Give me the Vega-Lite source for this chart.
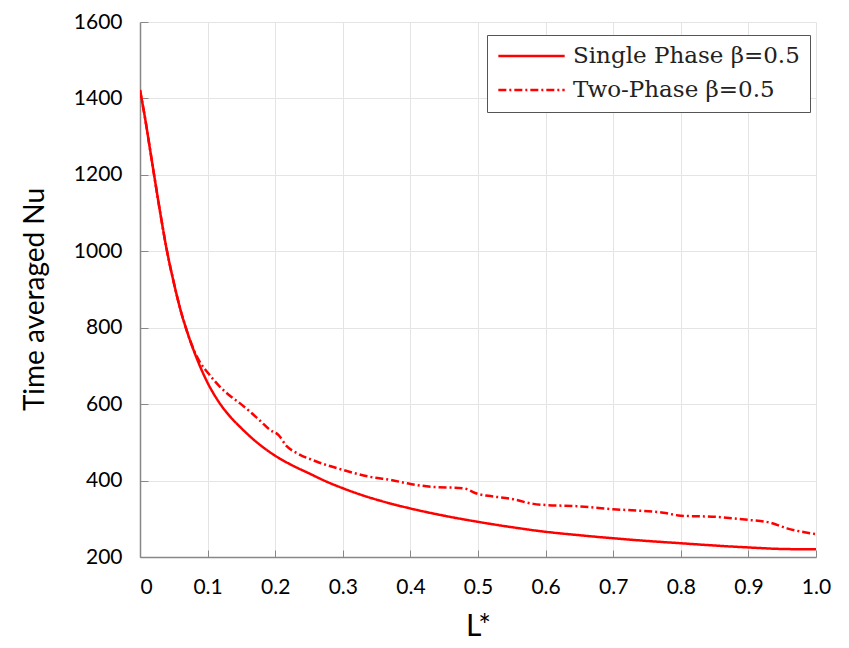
{
  "$schema": "https://vega.github.io/schema/vega-lite/v6.json",
  "width": 676,
  "height": 535,
  "autosize": {"type": "none"},
  "padding": {"left": 140, "top": 22, "right": 33, "bottom": 91},
  "background": "white",
  "config": {
    "view": {"stroke": null},
    "font": "Lato"
  },
  "data": {
    "values": [
      {"x": 0, "nu": 1422, "series": "Single Phase β=0.5"},
      {"x": 0.008, "nu": 1343, "series": "Single Phase β=0.5"},
      {"x": 0.015, "nu": 1265, "series": "Single Phase β=0.5"},
      {"x": 0.022, "nu": 1187, "series": "Single Phase β=0.5"},
      {"x": 0.03, "nu": 1100, "series": "Single Phase β=0.5"},
      {"x": 0.04, "nu": 1000, "series": "Single Phase β=0.5"},
      {"x": 0.05, "nu": 918, "series": "Single Phase β=0.5"},
      {"x": 0.06, "nu": 846, "series": "Single Phase β=0.5"},
      {"x": 0.07, "nu": 788, "series": "Single Phase β=0.5"},
      {"x": 0.08, "nu": 738, "series": "Single Phase β=0.5"},
      {"x": 0.09, "nu": 694, "series": "Single Phase β=0.5"},
      {"x": 0.1, "nu": 656, "series": "Single Phase β=0.5"},
      {"x": 0.115, "nu": 610, "series": "Single Phase β=0.5"},
      {"x": 0.133, "nu": 568, "series": "Single Phase β=0.5"},
      {"x": 0.15, "nu": 537, "series": "Single Phase β=0.5"},
      {"x": 0.165, "nu": 512, "series": "Single Phase β=0.5"},
      {"x": 0.18, "nu": 490, "series": "Single Phase β=0.5"},
      {"x": 0.2, "nu": 465, "series": "Single Phase β=0.5"},
      {"x": 0.225, "nu": 440, "series": "Single Phase β=0.5"},
      {"x": 0.25, "nu": 419, "series": "Single Phase β=0.5"},
      {"x": 0.275, "nu": 398, "series": "Single Phase β=0.5"},
      {"x": 0.3, "nu": 380, "series": "Single Phase β=0.5"},
      {"x": 0.33, "nu": 361, "series": "Single Phase β=0.5"},
      {"x": 0.36, "nu": 345, "series": "Single Phase β=0.5"},
      {"x": 0.4, "nu": 327, "series": "Single Phase β=0.5"},
      {"x": 0.45, "nu": 308, "series": "Single Phase β=0.5"},
      {"x": 0.5, "nu": 292, "series": "Single Phase β=0.5"},
      {"x": 0.55, "nu": 278, "series": "Single Phase β=0.5"},
      {"x": 0.6, "nu": 266, "series": "Single Phase β=0.5"},
      {"x": 0.65, "nu": 257, "series": "Single Phase β=0.5"},
      {"x": 0.7, "nu": 249, "series": "Single Phase β=0.5"},
      {"x": 0.75, "nu": 242, "series": "Single Phase β=0.5"},
      {"x": 0.8, "nu": 236, "series": "Single Phase β=0.5"},
      {"x": 0.85, "nu": 230, "series": "Single Phase β=0.5"},
      {"x": 0.9, "nu": 225, "series": "Single Phase β=0.5"},
      {"x": 0.95, "nu": 221, "series": "Single Phase β=0.5"},
      {"x": 1.0, "nu": 220, "series": "Single Phase β=0.5"},
      {"x": 0, "nu": 1422, "series": "Two-Phase β=0.5"},
      {"x": 0.008, "nu": 1343, "series": "Two-Phase β=0.5"},
      {"x": 0.015, "nu": 1265, "series": "Two-Phase β=0.5"},
      {"x": 0.022, "nu": 1187, "series": "Two-Phase β=0.5"},
      {"x": 0.03, "nu": 1100, "series": "Two-Phase β=0.5"},
      {"x": 0.04, "nu": 1000, "series": "Two-Phase β=0.5"},
      {"x": 0.05, "nu": 918, "series": "Two-Phase β=0.5"},
      {"x": 0.06, "nu": 846, "series": "Two-Phase β=0.5"},
      {"x": 0.07, "nu": 788, "series": "Two-Phase β=0.5"},
      {"x": 0.08, "nu": 740, "series": "Two-Phase β=0.5"},
      {"x": 0.09, "nu": 706, "series": "Two-Phase β=0.5"},
      {"x": 0.1, "nu": 683, "series": "Two-Phase β=0.5"},
      {"x": 0.118, "nu": 646, "series": "Two-Phase β=0.5"},
      {"x": 0.133, "nu": 622, "series": "Two-Phase β=0.5"},
      {"x": 0.148, "nu": 602, "series": "Two-Phase β=0.5"},
      {"x": 0.163, "nu": 580, "series": "Two-Phase β=0.5"},
      {"x": 0.178, "nu": 556, "series": "Two-Phase β=0.5"},
      {"x": 0.192, "nu": 533, "series": "Two-Phase β=0.5"},
      {"x": 0.205, "nu": 519, "series": "Two-Phase β=0.5"},
      {"x": 0.217, "nu": 490, "series": "Two-Phase β=0.5"},
      {"x": 0.232, "nu": 472, "series": "Two-Phase β=0.5"},
      {"x": 0.261, "nu": 450, "series": "Two-Phase β=0.5"},
      {"x": 0.3, "nu": 428, "series": "Two-Phase β=0.5"},
      {"x": 0.34, "nu": 410, "series": "Two-Phase β=0.5"},
      {"x": 0.37, "nu": 402, "series": "Two-Phase β=0.5"},
      {"x": 0.4, "nu": 391, "series": "Two-Phase β=0.5"},
      {"x": 0.43, "nu": 384, "series": "Two-Phase β=0.5"},
      {"x": 0.478, "nu": 380, "series": "Two-Phase β=0.5"},
      {"x": 0.5, "nu": 365, "series": "Two-Phase β=0.5"},
      {"x": 0.515, "nu": 360, "series": "Two-Phase β=0.5"},
      {"x": 0.547, "nu": 353, "series": "Two-Phase β=0.5"},
      {"x": 0.582, "nu": 339, "series": "Two-Phase β=0.5"},
      {"x": 0.6, "nu": 336, "series": "Two-Phase β=0.5"},
      {"x": 0.646, "nu": 333, "series": "Two-Phase β=0.5"},
      {"x": 0.7, "nu": 325, "series": "Two-Phase β=0.5"},
      {"x": 0.774, "nu": 316, "series": "Two-Phase β=0.5"},
      {"x": 0.8, "nu": 308, "series": "Two-Phase β=0.5"},
      {"x": 0.853, "nu": 305, "series": "Two-Phase β=0.5"},
      {"x": 0.9, "nu": 297, "series": "Two-Phase β=0.5"},
      {"x": 0.932, "nu": 290, "series": "Two-Phase β=0.5"},
      {"x": 0.957, "nu": 275, "series": "Two-Phase β=0.5"},
      {"x": 1.0, "nu": 260, "series": "Two-Phase β=0.5"}
    ]
  },
  "mark": {"type": "line", "color": "#ff0000", "strokeWidth": 2.5, "clip": true, "interpolate": "monotone"},
  "encoding": {
    "x": {
      "field": "x",
      "type": "quantitative",
      "scale": {"domain": [0, 1], "nice": false},
      "axis": {
        "title": "L*",
        "titleFont": "Lato",
        "titleFontSize": 30,
        "titleFontWeight": "normal",
        "titleColor": "#000",
        "titleBaseline": "middle",
        "titleY": 69,
        "titleX": 338,
        "values": [0, 0.1, 0.2, 0.3, 0.4, 0.5, 0.6, 0.7, 0.8, 0.9, 1.0],
        "labelExpr": "datum.value == 0 ? '0' : format(datum.value, '.1f')",
        "labelAlign": {"condition": {"test": "datum.value == 0", "value": "left"}, "value": "center"},
        "labelFont": "Lato",
        "labelFontSize": 21,
        "labelColor": "#000",
        "labelPadding": 26,
        "labelFlush": false,
        "tickSize": -7,
        "tickColor": "#888",
        "domainColor": "#888",
        "domainWidth": 1.5,
        "gridColor": "#e4e4e4",
        "gridWidth": 1
      }
    },
    "y": {
      "field": "nu",
      "type": "quantitative",
      "scale": {"domain": [200, 1600], "nice": false},
      "axis": {
        "title": "Time averaged Nu",
        "titleFont": "Lato",
        "titleFontSize": 28,
        "titleFontWeight": "normal",
        "titleColor": "#000",
        "titleAngle": -90,
        "titleBaseline": "middle",
        "titleX": -105,
        "titleY": 277,
        "values": [200, 400, 600, 800, 1000, 1200, 1400, 1600],
        "format": "d",
        "labelFont": "Lato",
        "labelFontSize": 21,
        "labelColor": "#000",
        "labelPadding": 26,
        "tickSize": -8,
        "tickColor": "#888",
        "domainColor": "#888",
        "domainWidth": 1.5,
        "gridColor": "#e4e4e4",
        "gridWidth": 1
      }
    },
    "strokeDash": {
      "field": "series",
      "type": "nominal",
      "scale": {
        "domain": ["Single Phase β=0.5", "Two-Phase β=0.5"],
        "range": [[1, 0], [8, 3, 2, 3]]
      },
      "legend": {
        "title": null,
        "orient": "none",
        "legendX": 347,
        "legendY": 13,
        "fillColor": "white",
        "strokeColor": "#555",
        "padding": 10,
        "clipHeight": 22,
        "labelFont": "DejaVu Serif",
        "labelFontSize": 23,
        "labelColor": "#222",
        "labelOffset": 7,
        "labelLimit": 400,
        "rowPadding": 11,
        "symbolType": "stroke",
        "symbolSize": 4400,
        "symbolStrokeColor": "#ff0000",
        "symbolStrokeWidth": 2.5
      }
    }
  }
}
